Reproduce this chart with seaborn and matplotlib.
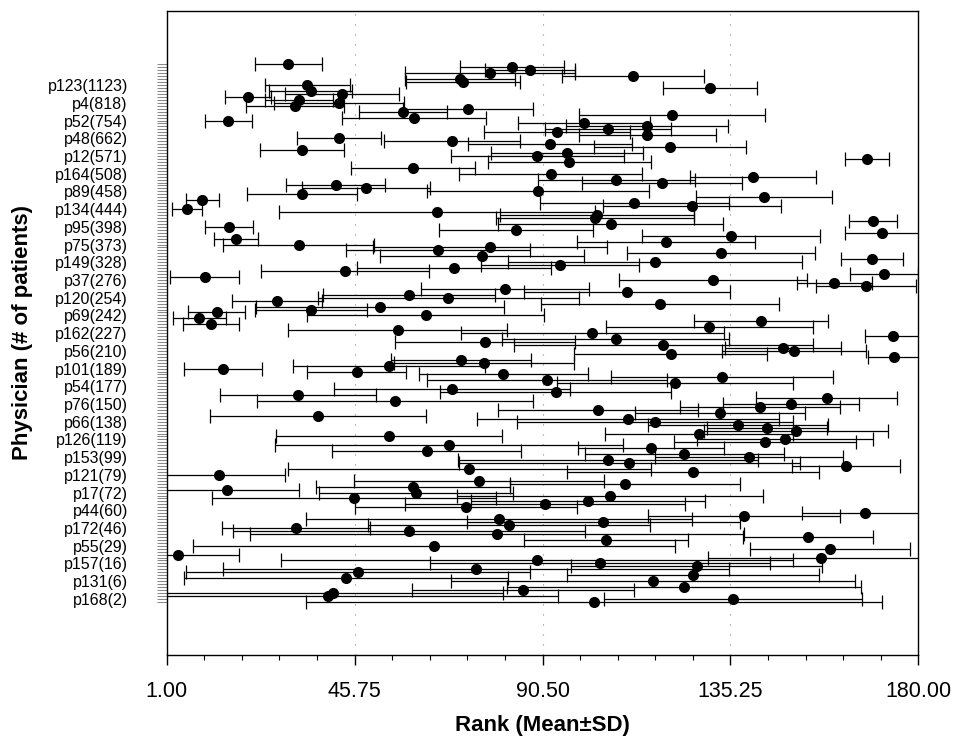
import matplotlib
matplotlib.use("Agg")
import matplotlib.pyplot as plt
import seaborn as sns
import numpy as np
import pandas as pd
from matplotlib.ticker import FixedLocator

# physician row (0 = top), ordered by number of patients
rows = [0, 1, 2, 3, 4, 5, 6, 7, 8, 9,
        10, 11, 12, 13, 14, 15, 16, 17, 18, 19,
        20, 21, 22, 23, 24, 25, 26, 27, 28, 29,
        30, 31, 32, 33, 35, 37, 38, 39, 40, 41,
        42, 43, 44, 45, 46, 47, 48, 49, 50, 51,
        52, 53, 54, 55, 56, 57, 58, 59, 60, 61,
        62, 63, 64, 65, 66, 67, 68, 69, 70, 71,
        72, 73, 74, 75, 76, 77, 78, 79, 80, 81,
        82, 83, 84, 85, 86, 87, 88, 89, 90, 91,
        92, 93, 94, 95, 96, 97, 98, 99, 100, 101,
        102, 103, 104, 105, 106, 107, 108, 110, 111, 112,
        113, 114, 115, 116, 117, 118, 119, 120, 121, 122,
        123, 124, 125, 126, 127, 128, 129, 130, 131, 132,
        133, 134, 135, 136, 137, 138, 139, 141, 142, 143,
        144, 145, 146, 147, 148, 149, 150, 152, 153, 154,
        155, 156, 157, 158, 159, 160, 161, 163, 164, 166,
        167, 168, 169, 170, 171, 172, 173, 174, 175, 177,
        178, 179, 180, 181, 182]

rank_mean = [30.0, 83.3, 87.5, 78.0, 112.1, 70.9, 71.6, 34.5, 130.4, 35.3,
             42.8, 20.4, 32.4, 42.0, 31.6, 72.8, 57.3, 121.4, 59.9, 15.7,
             100.4, 115.3, 106.1, 94.0, 115.5, 42.1, 68.9, 92.3, 120.9, 33.2,
             96.4, 89.3, 167.7, 96.9, 59.7, 92.4, 140.7, 108.1, 119.0, 41.2,
             48.5, 89.5, 33.2, 143.2, 9.5, 112.4, 126.2, 5.8, 65.4, 103.4,
             103.0, 169.3, 106.7, 15.8, 84.2, 171.3, 135.3, 17.5, 119.8, 32.4,
             78.0, 65.5, 133.0, 76.0, 169.0, 117.3, 94.7, 69.3, 43.5, 171.8,
             10.0, 131.2, 160.0, 167.5, 81.6, 110.7, 58.8, 68.1, 27.3, 118.5,
             51.8, 35.4, 12.9, 62.7, 8.8, 142.5, 11.5, 130.2, 56.0, 102.4,
             173.9, 107.9, 76.8, 119.3, 147.8, 150.4, 121.0, 174.2, 71.1, 76.6,
             54.0, 14.5, 46.2, 81.2, 133.2, 91.6, 122.1, 68.9, 93.6, 32.2,
             158.2, 55.4, 149.7, 142.3, 103.8, 132.8, 37.0, 110.9, 117.3, 137.0,
             144.0, 150.9, 127.7, 53.9, 148.2, 143.4, 68.3, 116.3, 62.9, 124.3,
             139.7, 106.0, 111.2, 162.8, 73.1, 126.4, 13.5, 75.4, 110.1, 59.7,
             15.3, 60.4, 106.6, 45.7, 101.3, 91.1, 72.3, 167.3, 138.5, 80.2,
             105.0, 82.5, 31.8, 58.6, 79.6, 153.8, 105.6, 64.7, 159.0, 3.8,
             156.8, 89.1, 104.2, 127.2, 74.6, 46.5, 126.4, 43.6, 116.9, 124.2,
             85.8, 40.5, 39.5, 135.8, 102.8]

rank_sd = [7.9, 12.4, 10.7, 20.2, 16.9, 13.1, 13.6, 10.2, 11.2, 9.9,
           13.6, 5.5, 8.1, 15.5, 11.7, 15.5, 10.4, 22.1, 17.1, 5.7,
           15.7, 19.3, 15.0, 17.4, 16.2, 10.0, 16.2, 19.5, 18.1, 10.0,
           18.1, 20.7, 5.2, 19.5, 14.8, 21.7, 15.0, 18.6, 19.1, 11.9,
           15.2, 26.4, 13.1, 16.2, 4.0, 22.6, 21.2, 3.6, 37.6, 23.1,
           23.6, 5.7, 26.7, 5.7, 18.3, 8.8, 21.2, 5.2, 21.2, 17.9,
           27.9, 21.9, 22.4, 24.3, 7.4, 35.0, 18.8, 23.1, 20.0, 8.1,
           8.1, 22.4, 9.0, 11.9, 20.0, 24.5, 20.5, 31.0, 10.7, 28.3,
           29.5, 13.3, 6.8, 28.2, 6.4, 15.9, 6.7, 24.7, 26.1, 31.2,
           6.7, 27.1, 21.4, 35.7, 13.8, 17.1, 22.9, 6.2, 16.7, 21.4,
           22.9, 9.3, 11.9, 20.2, 26.4, 28.6, 28.1, 28.1, 27.4, 18.6,
           16.8, 32.9, 16.2, 19.1, 23.8, 20.2, 25.7, 36.0, 32.9, 21.4,
           14.3, 21.9, 22.4, 26.9, 21.0, 21.7, 41.4, 17.4, 22.5, 23.8,
           22.4, 35.7, 40.5, 12.9, 43.3, 30.0, 15.7, 29.8, 27.4, 23.1,
           17.1, 23.1, 36.4, 33.8, 27.9, 33.3, 26.4, 15.0, 22.9, 46.0,
           32.6, 33.6, 17.6, 41.9, 58.8, 15.5, 19.5, 57.4, 19.1, 14.3,
           26.9, 61.0, 40.5, 29.8, 60.3, 41.0, 30.0, 38.6, 48.1, 42.2,
           26.4, 40.5, 54.8, 30.7, 68.6]

physician_labels = ["p123(1123)", "p4(818)", "p52(754)", "p48(662)", "p12(571)",
                    "p164(508)", "p89(458)", "p134(444)", "p95(398)", "p75(373)",
                    "p149(328)", "p37(276)", "p120(254)", "p69(242)", "p162(227)",
                    "p56(210)", "p101(189)", "p54(177)", "p76(150)", "p66(138)",
                    "p126(119)", "p153(99)", "p121(79)", "p17(72)", "p44(60)",
                    "p172(46)", "p55(29)", "p157(16)", "p131(6)", "p168(2)"]

x_ticks = [1.00, 45.75, 90.50, 135.25, 180.00]

assert len(rows) == len(rank_mean) == len(rank_sd)

n_rows = 183
label_rows = [7 + 6 * k for k in range(len(physician_labels))]

sns.set_theme(style="white")
plt.rcParams["font.family"] = ["Liberation Sans", "DejaVu Sans"]
plt.rcParams["text.color"] = "black"
plt.rcParams["axes.labelcolor"] = "black"
plt.rcParams["xtick.color"] = "black"
plt.rcParams["ytick.color"] = "black"

fig = plt.figure(figsize=(9.57, 7.37), dpi=100)
ax = fig.add_axes([0.1742, 0.1113, 0.7854, 0.8742])

df = pd.DataFrame({"row": rows, "mean": rank_mean, "sd": rank_sd})

ax.errorbar(df["mean"], df["row"], xerr=df["sd"], fmt="none", ecolor="black",
            elinewidth=0.9, capsize=5, capthick=0.9, zorder=2)
sns.scatterplot(data=df, x="mean", y="row", ax=ax, color="black", s=64,
                linewidth=0, zorder=3, legend=False)

ax.set_xlim(1, 180)
ax.set_ylim(200, -18.2)

# x axis
ax.set_xticks(x_ticks)
ax.set_xticklabels([f"{v:.2f}" for v in x_ticks])
ax.xaxis.set_minor_locator(FixedLocator(np.linspace(1, 180, 21)))
ax.tick_params(axis="x", which="major", bottom=True, direction="out", length=7,
               width=1.0, color="black", labelcolor="black", pad=12, labelsize=15.5)
ax.tick_params(axis="x", which="minor", bottom=True, direction="out", length=3.6,
               width=0.8, color="black")
ax.xaxis.grid(True, which="major", linestyle=(0, (1, 8)), color="#888888", linewidth=0.8)
ax.yaxis.grid(False)

# y axis
ytl = [""] * n_rows
for r, lab in zip(label_rows, physician_labels):
    ytl[r] = lab
ax.set_yticks(range(n_rows))
ax.set_yticklabels(ytl)
ax.tick_params(axis="y", which="major", left=True, direction="out", length=7,
               width=0.5, color="#555555", labelcolor="black", pad=21, labelsize=11.5)

for sp in ax.spines.values():
    sp.set_visible(True)
    sp.set_color("black")
    sp.set_linewidth(1.0)

ax.set_xlabel("Rank (Mean\u00b1SD)", fontsize=16, fontweight="bold", color="black")
ax.set_ylabel("Physician (# of patients)", fontsize=16, fontweight="bold", color="black")
ax.xaxis.set_label_coords(0.5, -0.093)
ax.yaxis.set_label_coords(-0.178, 0.5)

fig.savefig("out.png", dpi=100)
